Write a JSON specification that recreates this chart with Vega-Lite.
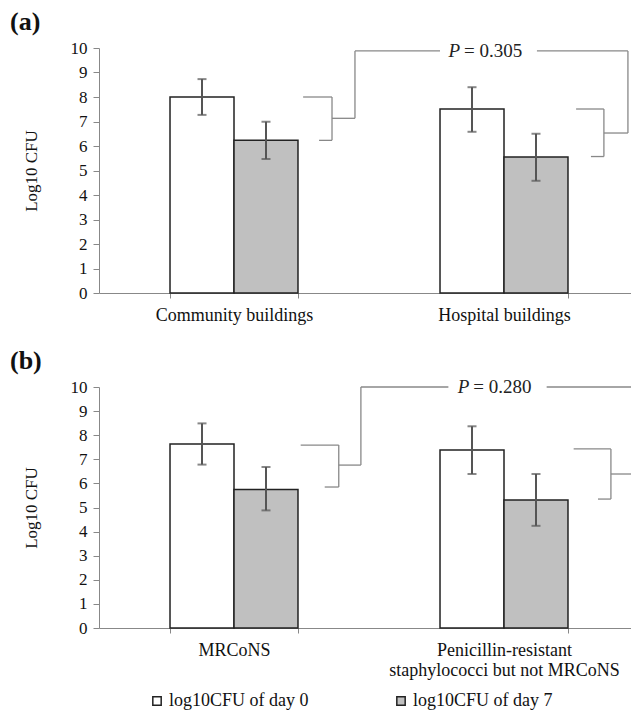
{
  "$schema": "https://vega.github.io/schema/vega-lite/v6.json",
  "padding": {"left": 10, "top": 9, "right": 0, "bottom": 0},
  "background": "white",
  "config": {
    "font": "Liberation Serif",
    "view": {"stroke": null},
    "axis": {"domainColor": "#888", "tickColor": "#888", "labelColor": "#111", "labelFontSize": 17, "titleFontSize": 17, "titleFontWeight": "normal", "titleColor": "#111", "grid": false, "labelFont": "Liberation Serif", "titleFont": "Liberation Serif"},
    "axisY": {"tickCount": 10, "values": [0,1,2,3,4,5,6,7,8,9,10], "labelOverlap": false, "tickSize": 6, "labelPadding": 6, "titlePadding": 30},
    "title": {"font": "Liberation Serif", "fontSize": 26, "fontWeight": "bold", "anchor": "start", "frame": "bounds", "color": "#111"},
    "legend": {"labelFont": "Liberation Serif", "labelFontSize": 18, "labelColor": "#111", "symbolType": "square", "symbolSize": 70, "symbolStrokeColor": "#222", "symbolStrokeWidth": 1.5, "columnPadding": 83, "labelOffset": 3}
  },
  "datasets": {
    "bars": [
      {"panel": "a", "category": "Community buildings", "day": "log10CFU of day 0", "mean": 8.0, "lo": 7.27, "hi": 8.73},
      {"panel": "a", "category": "Community buildings", "day": "log10CFU of day 7", "mean": 6.23, "lo": 5.47, "hi": 6.99},
      {"panel": "a", "category": "Hospital buildings", "day": "log10CFU of day 0", "mean": 7.51, "lo": 6.58, "hi": 8.4},
      {"panel": "a", "category": "Hospital buildings", "day": "log10CFU of day 7", "mean": 5.55, "lo": 4.58, "hi": 6.5},
      {"panel": "b", "category": "MRCoNS", "day": "log10CFU of day 0", "mean": 7.63, "lo": 6.78, "hi": 8.49},
      {"panel": "b", "category": "MRCoNS", "day": "log10CFU of day 7", "mean": 5.75, "lo": 4.88, "hi": 6.68},
      {"panel": "b", "category": "Penicillin-resistant staphylococci but not MRCoNS", "day": "log10CFU of day 0", "mean": 7.39, "lo": 6.39, "hi": 8.37},
      {"panel": "b", "category": "Penicillin-resistant staphylococci but not MRCoNS", "day": "log10CFU of day 7", "mean": 5.31, "lo": 4.24, "hi": 6.39}
    ],
    "brackets": [
      {"panel": "a", "x": 0.756, "x2": 0.863, "y": 8.0, "y2": 8.0},
      {"panel": "a", "x": 0.863, "x2": 0.863, "y": 8.0, "y2": 6.23},
      {"panel": "a", "x": 0.815, "x2": 0.863, "y": 6.23, "y2": 6.23},
      {"panel": "a", "x": 0.863, "x2": 0.948, "y": 7.13, "y2": 7.13},
      {"panel": "a", "x": 0.948, "x2": 0.948, "y": 7.13, "y2": 9.88},
      {"panel": "a", "x": 0.948, "x2": 1.263, "y": 9.88, "y2": 9.88},
      {"panel": "a", "x": 1.622, "x2": 1.959, "y": 9.88, "y2": 9.88},
      {"panel": "a", "x": 1.959, "x2": 1.959, "y": 9.88, "y2": 6.53},
      {"panel": "a", "x": 1.87, "x2": 1.959, "y": 6.53, "y2": 6.53},
      {"panel": "a", "x": 1.87, "x2": 1.87, "y": 7.51, "y2": 5.57},
      {"panel": "a", "x": 1.767, "x2": 1.87, "y": 7.51, "y2": 7.51},
      {"panel": "a", "x": 1.822, "x2": 1.87, "y": 5.57, "y2": 5.57},
      {"panel": "b", "x": 0.747, "x2": 0.888, "y": 7.59, "y2": 7.59},
      {"panel": "b", "x": 0.888, "x2": 0.888, "y": 7.59, "y2": 5.85},
      {"panel": "b", "x": 0.836, "x2": 0.888, "y": 5.85, "y2": 5.85},
      {"panel": "b", "x": 0.888, "x2": 0.97, "y": 6.76, "y2": 6.76},
      {"panel": "b", "x": 0.97, "x2": 0.97, "y": 6.76, "y2": 10.0},
      {"panel": "b", "x": 0.97, "x2": 1.294, "y": 10.0, "y2": 10.0},
      {"panel": "b", "x": 1.658, "x2": 2.0, "y": 10.0, "y2": 10.0},
      {"panel": "b", "x": 1.758, "x2": 1.896, "y": 7.43, "y2": 7.43},
      {"panel": "b", "x": 1.896, "x2": 1.896, "y": 7.43, "y2": 5.35},
      {"panel": "b", "x": 1.848, "x2": 1.896, "y": 5.35, "y2": 5.35},
      {"panel": "b", "x": 1.896, "x2": 2.0, "y": 6.39, "y2": 6.39}
    ],
    "ptext": [
      {"panel": "a", "x": 1.341, "y": 9.88, "rest": "= 0.305"},
      {"panel": "b", "x": 1.375, "y": 10.0, "rest": "= 0.280"}
    ]
  },
  "spacing": 24,
  "vconcat": [
    {
      "title": {"text": "(a)", "dx": -12, "offset": 4},
      "width": 540,
      "height": 245,
      "resolve": {"scale": {"x": "independent"}},
      "layer": [
        {
          "data": {"name": "bars"},
          "transform": [{"filter": "datum.panel == 'a'"}],
          "encoding": {
            "x": {"field": "category", "type": "nominal", "sort": null, "title": null, "scale": {"paddingInner": 0.526, "paddingOuter": 0.263},
                  "axis": {"labelAngle": 0, "labelPadding": 8, "tickBand": "extent", "tickSize": 5, "labelLimit": 500, "labelFontSize": 18}},
            "xOffset": {"field": "day", "type": "nominal", "scale": {"paddingInner": 0, "paddingOuter": 0}}
          },
          "layer": [
            {"mark": {"type": "bar", "stroke": "#222", "strokeWidth": 1.5},
             "encoding": {
               "y": {"field": "mean", "type": "quantitative", "title": "Log10 CFU", "scale": {"domain": [0, 10]}},
               "color": {"field": "day", "type": "nominal", "scale": {"domain": ["log10CFU of day 0", "log10CFU of day 7"], "range": ["#ffffff", "#c0c0c0"]},
                         "legend": {"title": null, "orient": "none", "direction": "horizontal", "legendX": 49, "legendY": 644}}
             }},
            {"mark": {"type": "rule", "color": "#555", "strokeWidth": 2},
             "encoding": {"y": {"field": "lo", "type": "quantitative", "title": "Log10 CFU"}, "y2": {"field": "hi"}}},
            {"mark": {"type": "tick", "color": "#555", "thickness": 2, "size": 9},
             "encoding": {"y": {"field": "lo", "type": "quantitative", "title": "Log10 CFU"}}},
            {"mark": {"type": "tick", "color": "#555", "thickness": 2, "size": 9},
             "encoding": {"y": {"field": "hi", "type": "quantitative", "title": "Log10 CFU"}}}
          ]
        },
        {
          "layer": [
            {
              "data": {"name": "brackets"},
              "transform": [{"filter": "datum.panel == 'a'"}],
              "mark": {"type": "rule", "color": "#888", "strokeWidth": 1.3},
              "encoding": {
                "x": {"field": "x", "type": "quantitative", "scale": {"domain": [0, 2]}, "axis": null},
                "x2": {"field": "x2"},
                "y": {"field": "y", "type": "quantitative", "title": "Log10 CFU"},
                "y2": {"field": "y2"}
              }
            },
            {
              "data": {"name": "ptext"},
              "transform": [{"filter": "datum.panel == 'a'"}],
              "mark": {"type": "text", "text": "P", "fontStyle": "italic", "fontSize": 19, "align": "right", "baseline": "middle", "dx": -1, "color": "#222"},
              "encoding": {
                "x": {"field": "x", "type": "quantitative", "scale": {"domain": [0, 2]}, "axis": null},
                "y": {"field": "y", "type": "quantitative", "title": "Log10 CFU"}
              }
            },
            {
              "data": {"name": "ptext"},
              "transform": [{"filter": "datum.panel == 'a'"}],
              "mark": {"type": "text", "fontSize": 19, "align": "left", "baseline": "middle", "dx": 3, "color": "#222"},
              "encoding": {
                "x": {"field": "x", "type": "quantitative", "scale": {"domain": [0, 2]}, "axis": null},
                "y": {"field": "y", "type": "quantitative", "title": "Log10 CFU"},
                "text": {"field": "rest"}
              }
            }
          ]
        }
      ]
    },
    {
      "title": {"text": "(b)", "dx": -12, "offset": 4},
      "width": 540,
      "height": 241,
      "resolve": {"scale": {"x": "independent"}},
      "layer": [
        {
          "data": {"name": "bars"},
          "transform": [{"filter": "datum.panel == 'b'"}],
          "encoding": {
            "x": {"field": "category", "type": "nominal", "sort": null, "title": null, "scale": {"paddingInner": 0.526, "paddingOuter": 0.263},
                  "axis": {"labelAngle": 0, "labelPadding": 8, "tickBand": "extent", "tickSize": 5, "labelLimit": 600, "labelFontSize": 18, "labelLineHeight": 20,
                           "labelExpr": "datum.value == 'Penicillin-resistant staphylococci but not MRCoNS' ? ['Penicillin-resistant', 'staphylococci but not MRCoNS'] : datum.label"}},
            "xOffset": {"field": "day", "type": "nominal", "scale": {"paddingInner": 0, "paddingOuter": 0}}
          },
          "layer": [
            {"mark": {"type": "bar", "stroke": "#222", "strokeWidth": 1.5},
             "encoding": {
               "y": {"field": "mean", "type": "quantitative", "title": "Log10 CFU", "scale": {"domain": [0, 10]}},
               "color": {"field": "day", "type": "nominal", "scale": {"domain": ["log10CFU of day 0", "log10CFU of day 7"], "range": ["#ffffff", "#c0c0c0"]},
                         "legend": {"title": null, "orient": "none", "direction": "horizontal", "legendX": 49, "legendY": 644}}
             }},
            {"mark": {"type": "rule", "color": "#555", "strokeWidth": 2},
             "encoding": {"y": {"field": "lo", "type": "quantitative", "title": "Log10 CFU"}, "y2": {"field": "hi"}}},
            {"mark": {"type": "tick", "color": "#555", "thickness": 2, "size": 9},
             "encoding": {"y": {"field": "lo", "type": "quantitative", "title": "Log10 CFU"}}},
            {"mark": {"type": "tick", "color": "#555", "thickness": 2, "size": 9},
             "encoding": {"y": {"field": "hi", "type": "quantitative", "title": "Log10 CFU"}}}
          ]
        },
        {
          "layer": [
            {
              "data": {"name": "brackets"},
              "transform": [{"filter": "datum.panel == 'b'"}],
              "mark": {"type": "rule", "color": "#888", "strokeWidth": 1.3},
              "encoding": {
                "x": {"field": "x", "type": "quantitative", "scale": {"domain": [0, 2]}, "axis": null},
                "x2": {"field": "x2"},
                "y": {"field": "y", "type": "quantitative", "title": "Log10 CFU"},
                "y2": {"field": "y2"}
              }
            },
            {
              "data": {"name": "ptext"},
              "transform": [{"filter": "datum.panel == 'b'"}],
              "mark": {"type": "text", "text": "P", "fontStyle": "italic", "fontSize": 19, "align": "right", "baseline": "middle", "dx": -1, "color": "#222"},
              "encoding": {
                "x": {"field": "x", "type": "quantitative", "scale": {"domain": [0, 2]}, "axis": null},
                "y": {"field": "y", "type": "quantitative", "title": "Log10 CFU"}
              }
            },
            {
              "data": {"name": "ptext"},
              "transform": [{"filter": "datum.panel == 'b'"}],
              "mark": {"type": "text", "fontSize": 19, "align": "left", "baseline": "middle", "dx": 3, "color": "#222"},
              "encoding": {
                "x": {"field": "x", "type": "quantitative", "scale": {"domain": [0, 2]}, "axis": null},
                "y": {"field": "y", "type": "quantitative", "title": "Log10 CFU"},
                "text": {"field": "rest"}
              }
            }
          ]
        }
      ]
    }
  ]
}
